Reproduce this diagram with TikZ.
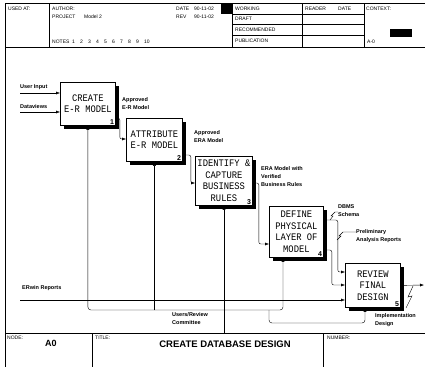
\documentclass[tikz,border=0pt]{standalone}
\usepackage{fontspec}
\setsansfont{Liberation Sans}
\setmonofont[FakeStretch=0.88]{Liberation Mono}
\usetikzlibrary{arrows.meta,calc,shadows}

\tikzset{
  box/.style={draw, thick, fill=white, anchor=north west, align=center, inner sep=0pt,
    font=\ttfamily\fontsize{10}{11.5}\selectfont,
    drop shadow={shadow xshift=3.5pt, shadow yshift=-3.5pt, fill=black, opacity=1}},
  num/.style={font=\sffamily\bfseries\fontsize{7}{7}\selectfont, anchor=south east, inner sep=1.5pt},
  lbl/.style={font=\sffamily\bfseries\fontsize{5.5}{8}\selectfont, align=left, anchor=north west, inner sep=0pt},
  hdr/.style={font=\sffamily\fontsize{5}{6}\selectfont, anchor=west, inner sep=0pt},
  wire/.style={thin},
  arr/.style={thin, -{Latex[length=4pt,width=3pt]}},
}

\begin{document}
\begin{tikzpicture}[x=1pt, y=-1pt]
  \useasboundingbox (0,0) rectangle (425,367);

  % frame and header
  \draw[wire] (5,3) -- (425,3);
  \draw[wire] (5,47) -- (425,47);
  \draw[wire] (5,3) -- (5,367);
  \draw[wire] (49,3) -- (49,47);
  \draw[wire] (232,3) -- (232,47);
  \draw[wire] (302,3) -- (302,47);
  \draw[wire] (364,3) -- (364,47);
  \foreach \y in {14,24,35} \draw[wire] (232,\y) -- (364,\y);
  \fill (221,3) rectangle (232,14);
  \fill (390,29) rectangle (412,37);

  \node[hdr] (usedat) at (8,9) {USED AT:};
  \node[hdr] (author) at (52,9) {AUTHOR:};
  \node[hdr] (project) at (52,17) {PROJECT};
  \node[hdr] (projname) at (84,17) {Model 2};
  \node[hdr] (date) at (176,9) {DATE};
  \node[hdr] (dateval) at (194,9) {90-11-02};
  \node[hdr] (rev) at (176,17) {REV};
  \node[hdr] (revval) at (194,17) {90-11-02};
  \node[hdr] (notes) at (52,42) {NOTES};
  \foreach \n in {1,...,10}
    \node[hdr] (note\n) at ({64+8*\n},42) {\n};
  \node[hdr] (working) at (235,9) {WORKING};
  \node[hdr] (draft) at (235,19) {DRAFT};
  \node[hdr] (recom) at (235,29.5) {RECOMMENDED};
  \node[hdr] (publ) at (235,40.5) {PUBLICATION};
  \node[hdr] (reader) at (305,9) {READER};
  \node[hdr] (rdate) at (338,9) {DATE};
  \node[hdr] (context) at (366,9) {CONTEXT:};
  \node[hdr] (ctxnode) at (367,42) {A-0};

  % activity boxes
  \node[box, minimum width=55pt, minimum height=43pt, label={[num]south east:1}] (b1) at (60,82) {CREATE\\E-R MODEL};
  \node[box, minimum width=56pt, minimum height=43pt, label={[num]south east:2}] (b2) at (126,118) {ATTRIBUTE\\E-R MODEL};
  \node[box, minimum width=57pt, minimum height=49pt, label={[num]south east:3}] (b3) at (195,156) {IDENTIFY \&\\CAPTURE\\BUSINESS\\RULES};
  \node[box, minimum width=54pt, minimum height=51pt, label={[num]south east:4}] (b4) at (269,206) {DEFINE\\PHYSICAL\\LAYER OF\\MODEL};
  \node[box, minimum width=55pt, minimum height=44pt, label={[num]south east:5}] (b5) at (345,263) {REVIEW\\FINAL\\DESIGN};

  % inputs
  \coordinate (uin) at (20,93);
  \coordinate (dv) at (20,112);
  \coordinate (erw) at (20,300);
  \draw[arr] (uin) -- (uin -| b1.west);
  \draw[arr] (dv) -- (dv -| b1.west);
  \draw[arr] (erw) -- (erw -| b5.west);
  \node[lbl, anchor=south west] (uinlbl) at ($(uin)+(0,-3)$) {User Input};
  \node[lbl, anchor=south west] (dvlbl) at ($(dv)+(0,-3)$) {Dataviews};
  \node[lbl, anchor=south west] (erwlbl) at ($(erw)+(2,-9)$) {ERwin Reports};

  % outputs between activities
  \draw[arr, rounded corners=2] ($(b1.north east)+(0,36)$) -- ++(4,0) |- ($(b2.north west)+(0,21)$);
  \draw[arr, rounded corners=2] ($(b2.north east)+(0,37)$) -- ++(8,0) |- ($(b3.north west)+(0,27)$);
  \draw[arr, rounded corners=2] ($(b3.north east)+(0,27)$) -- ++(6,0) |- ($(b4.north west)+(0,38)$);
  \draw[arr, rounded corners=2] ($(b4.north east)+(0,14)$) -- ++(14,0) |- ($(b5.north west)+(0,9)$);
  \draw[arr, rounded corners=2] ($(b4.north east)+(0,44)$) -- ++(8,0) |- ($(b5.north west)+(0,22)$);
  \coordinate (outR) at (424,285);
  \draw[arr] (b5.east) -- (outR);

  \node[lbl] (apv1) at (122,97) {Approved\\E-R Model};
  \node[lbl] (apv2) at (194,130) {Approved\\ERA Model};
  \node[lbl] (vbr) at (261,166) {ERA Model with\\Verified\\Business Rules};
  \node[lbl] (dbms) at (338,204) {DBMS\\Schema};
  \node[lbl] (prelim) at (356,229) {Preliminary\\Analysis Reports};
  \node[lbl] (impl) at (375,313) {Implementation\\Design};

  % squiggles
  \draw[wire] (330,220) -- ++(3,-4) -- ++(-2,0) -- ++(4,-4) -- (dbms.west |- 0,212);
  \draw[wire] (337,240) -- ++(4,-4) -- ++(-2,0) -- ++(4,-4) -- (prelim.west |- 0,232);
  \draw[wire] (413,286) -- (408,297) -- (412,296) -- (406,308);

  % mechanisms
  \coordinate (mech) at (224,310);
  \coordinate (mechin) at (224,333);
  \coordinate (split) at (269,310);
  \draw[wire] (mechin) -- (mech);
  \draw[arr] (mech) -- (mech |- b3.south);
  \draw[thin, {Latex[length=4pt,width=3pt]}-{Latex[length=4pt,width=3pt]}, rounded corners=3]
    (b1.south) |- (mech) -| ($(b4.south west)+(14,0)$);
  \draw[arr] (b2.south |- mech) -- (b2.south);
  \draw[arr, rounded corners=3] (split) -- ++(0,13) -| ($(b5.south west)+(20,0)$);
  \node[lbl] (users) at (172,312) {Users/Review\\Committee};

  % title block
  \draw[wire] (5,333) -- (425,333);
  \draw[wire] (92,333) -- (92,367);
  \draw[wire] (323,333) -- (323,367);
  \node[hdr] (nodelbl) at (7,338) {NODE:};
  \node[font=\sffamily\bfseries\fontsize{9}{9}\selectfont, anchor=west, inner sep=0pt] (nodeval) at (45,343) {A0};
  \node[hdr] (titlelbl) at (95,338) {TITLE:};
  \node[font=\sffamily\bfseries\fontsize{9.5}{9.5}\selectfont, inner sep=0pt] (title) at (225,344) {CREATE DATABASE DESIGN};
  \node[hdr] (numlbl) at (327,338) {NUMBER:};
\end{tikzpicture}
\end{document}
